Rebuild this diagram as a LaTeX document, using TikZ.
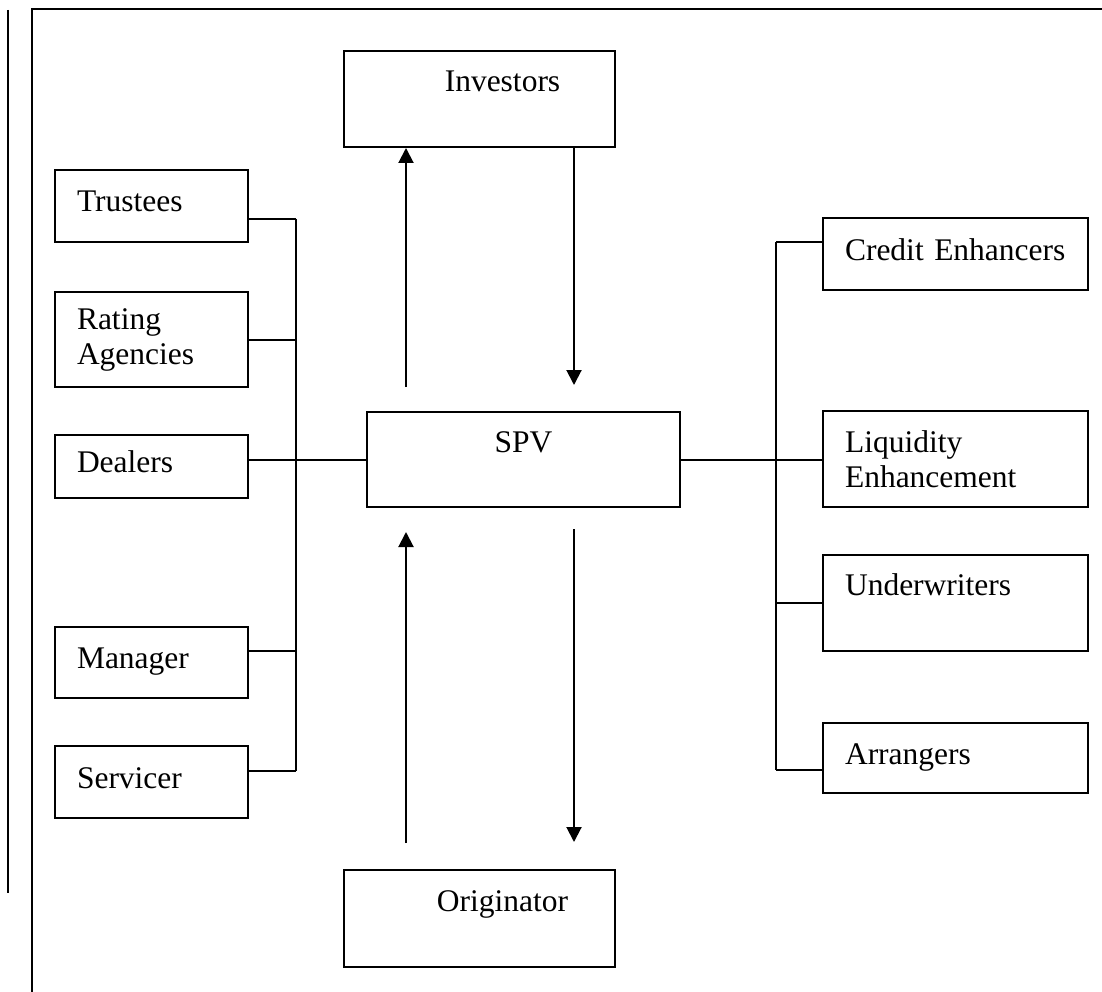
\documentclass[tikz,border=0pt]{standalone}
\usepackage{fontspec}
\setmainfont{Liberation Serif}
\usetikzlibrary{arrows.meta}
\begin{document}
\begin{tikzpicture}[x=1pt, y=-1pt, font=\fontsize{31.5}{35}\selectfont, line width=2pt,
    lbox/.style={draw, inner xsep=22pt, inner ysep=0pt, minimum width=193pt, text width=149pt, align=left},
    rbox/.style={draw, inner xsep=22pt, inner ysep=0pt, minimum width=265pt, text width=221pt, align=left},
    cbox/.style={draw, inner sep=0pt},
    low/.style={text height=21pt, text depth=9pt},
    high/.style={text height=21pt, text depth=36pt},
    pushright/.style={execute at begin node={\hspace*{46pt}}},
    arr/.style={-{Triangle[length=15pt, width=15pt]}}]
    \useasboundingbox (0,0) rectangle (1102,992);
    % page edges
    \draw[line width=2.8pt] (8,10) -- (8,893);
    \draw[line width=2.8pt] (32,992) -- (32,9) -- (1102,9);

    \node[cbox, high, minimum width=271pt, minimum height=96pt, pushright] (inv) at (479.5,99) {Investors};
    \node[cbox, high, minimum width=313pt, minimum height=95pt] (spv) at (523.5,459.5) {SPV};
    \node[cbox, high, minimum width=271pt, minimum height=97pt, pushright] (org) at (479.5,918.5) {Originator};

    \node[lbox, low, minimum height=72pt] (tru) at (151.5,206) {Trustees};
    \node[lbox, minimum height=95pt] (rat) at (151.5,339.5) {Rating\\Agencies};
    \node[lbox, low, minimum height=63pt] (dea) at (151.5,466.5) {Dealers};
    \node[lbox, low, minimum height=71pt] (man) at (151.5,662.5) {Manager};
    \node[lbox, low, minimum height=72pt] (ser) at (151.5,782) {Servicer};

    \node[rbox, low, minimum height=72pt] (cre) at (955.5,254) {Credit Enhancers};
    \node[rbox, minimum height=96pt] (liq) at (955.5,459) {Liquidity\\Enhancement};
    \node[rbox, high, minimum height=96pt] (und) at (955.5,603) {Underwriters};
    \node[rbox, low, minimum height=70pt] (arg) at (955.5,758) {Arrangers};

    % left bus
    \coordinate (lt) at (296,219);
    \coordinate (lm) at (296,651);
    \coordinate (lb) at (296,771);
    \draw (lt) -- (lb);
    \draw (tru.east |- lt) -- (lt);
    \draw (rat.east) -- (rat.east -| lt);
    \draw (dea.east |- spv.west) -- (spv.west);
    \draw (man.east |- lm) -- (lm);
    \draw (ser.east |- lb) -- (lb);

    % right bus
    \coordinate (rt) at (776,242);
    \coordinate (rb) at (776,770);
    \draw (rt) -- (rb);
    \draw (rt) -- (rt -| cre.west);
    \draw (spv.east) -- (spv.east -| liq.west);
    \draw (und.west) -- (und.west -| rt);
    \draw (rb) -- (rb -| arg.west);

    % flows
    \coordinate (iu) at (406,387);
    \coordinate (id) at (574,385);
    \draw[arr] (iu) -- (iu |- inv.south);
    \draw[arr] (inv.south -| id) -- (id);
    \coordinate (oa) at (406,843);
    \coordinate (ob) at (406,532);
    \coordinate (oc) at (574,529);
    \coordinate (od) at (574,842);
    \draw[arr] (oa) -- (ob);
    \draw[arr] (oc) -- (od);
\end{tikzpicture}
\end{document}
